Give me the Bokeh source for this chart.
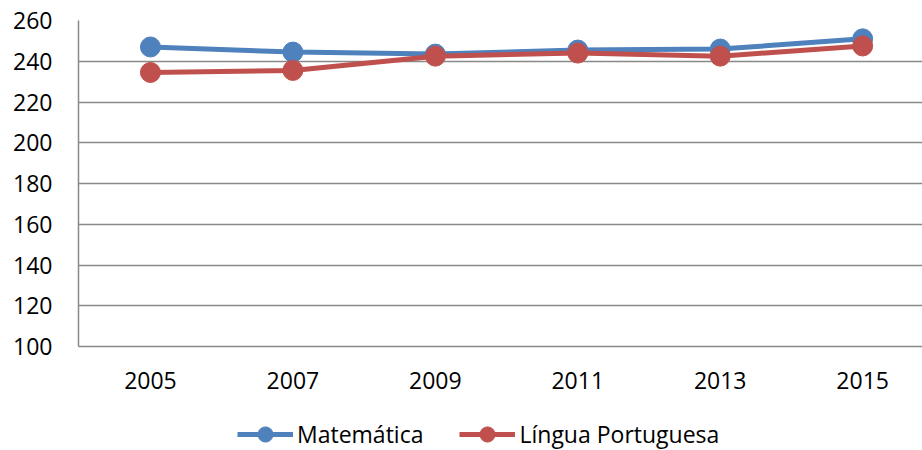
from bokeh.plotting import figure
from bokeh.layouts import column
from bokeh.models import Range1d, FixedTicker, Legend, LegendItem
from bokeh.embed import file_html
from bokeh.resources import INLINE

years = [2005, 2007, 2009, 2011, 2013, 2015]
matematica = [247.0, 244.5, 243.5, 245.5, 246.0, 251.0]
portugues = [234.5, 235.5, 242.5, 244.0, 242.5, 247.5]
y_ticks = [100, 120, 140, 160, 180, 200, 220, 240, 260]
series_names = ["Matemática", "Língua Portuguesa"]

BLUE = "#4F81BD"
RED = "#C0504D"
GRID = "#898989"
FONT = "Open Sans"

p = figure(width=922, height=394, output_backend="svg", toolbar_location=None,
           x_range=Range1d(2003.99, 2015.84), y_range=Range1d(100, 260),
           min_border_left=78, min_border_top=20, min_border_right=0, min_border_bottom=48)
p.outline_line_color = None
p.border_fill_color = "white"

p.line(years, matematica, line_color=BLUE, line_width=5)
p.scatter(years, matematica, size=20, fill_color=BLUE, line_color=BLUE)
p.line(years, portugues, line_color=RED, line_width=5)
p.scatter(years, portugues, size=20, fill_color=RED, line_color=RED)

p.xaxis.ticker = FixedTicker(ticks=years)
p.yaxis.ticker = FixedTicker(ticks=y_ticks)
p.xgrid.grid_line_color = None
p.ygrid.grid_line_color = GRID
p.ygrid.grid_line_width = 1.5

for ax in (p.xaxis[0], p.yaxis[0]):
    ax.axis_line_color = GRID
    ax.axis_line_width = 1.5
    ax.major_tick_in = 0
    ax.major_tick_out = 0
    ax.minor_tick_in = 0
    ax.minor_tick_out = 0
    ax.major_label_text_font = FONT
    ax.major_label_text_font_size = "23px"
    ax.major_label_text_color = "black"
p.yaxis.major_label_standoff = 26
p.xaxis.major_label_standoff = 25

# legend strip below the chart (its sample glyphs sit outside the visible range)
lg = figure(width=922, height=56, output_backend="svg", toolbar_location=None,
            x_range=Range1d(0, 1), y_range=Range1d(0, 1),
            x_axis_location=None, y_axis_location=None,
            min_border_left=0, min_border_right=0, min_border_top=0, min_border_bottom=0)
lg.outline_line_color = None
lg.xgrid.grid_line_color = None
lg.ygrid.grid_line_color = None
l1 = lg.line([5, 6], [5, 6], line_color=BLUE, line_width=5)
m1 = lg.scatter([5], [5], size=20, fill_color=BLUE, line_color=BLUE)
l2 = lg.line([5, 6], [5, 6], line_color=RED, line_width=5)
m2 = lg.scatter([5], [5], size=20, fill_color=RED, line_color=RED)

legend = Legend(items=[LegendItem(label=series_names[0], renderers=[l1, m1]),
                       LegendItem(label=series_names[1], renderers=[l2, m2])],
                orientation="horizontal", location=(159, -3),
                glyph_width=56, glyph_height=38, label_standoff=4, spacing=36,
                padding=0, margin=0, border_line_color=None,
                label_text_font=FONT, label_text_font_size="23px", label_text_color="black",
                background_fill_alpha=0)
lg.add_layout(legend, "center")

layout = column(p, lg, spacing=0)
open("out.html", "w").write(file_html(layout, INLINE))
